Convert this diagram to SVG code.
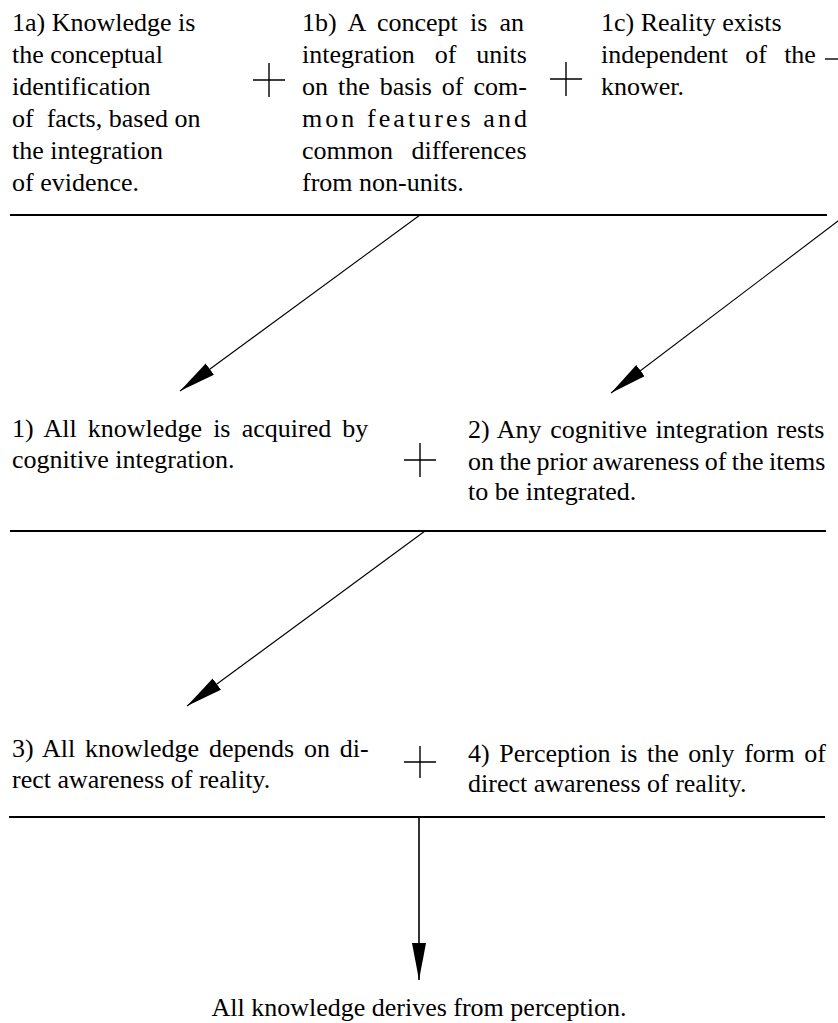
<svg xmlns="http://www.w3.org/2000/svg" width="838" height="1023" viewBox="0 0 838 1023">
<style>
  text { font-family: "Liberation Serif", "Times New Roman", serif; font-size: 26px; fill: #000; }
  .rule { stroke: #000; stroke-width: 2; fill: none; }
  .plus { stroke: #000; stroke-width: 1.4; fill: none; }
  .arrow { stroke: #000; stroke-width: 1.1; fill: none; marker-end: url(#head); }
  .arrowv { stroke: #000; stroke-width: 1.6; fill: none; marker-end: url(#head); }
</style>
<defs>
  <marker id="head" markerUnits="userSpaceOnUse" markerWidth="40" markerHeight="16" refX="37" refY="7" orient="auto">
    <path d="M0,0 L37,7 L0,14 Z" fill="#000"/>
  </marker>
</defs>
<rect width="838" height="1023" fill="#fff"/>

<g id="n1a">
  <text x="12" y="31">1a) Knowledge is</text>
  <text x="12" y="63">the conceptual</text>
  <text x="12" y="95">identification</text>
  <text x="12" y="127">of&#160; facts, based on</text>
  <text x="12" y="159">the integration</text>
  <text x="12" y="191">of evidence.</text>
</g>
<g id="n1b">
  <text x="302" y="31" style="word-spacing:5.7px">1b) A concept is an</text>
  <text x="302" y="63" style="word-spacing:13.5px">integration of units</text>
  <text x="302" y="95" style="word-spacing:3.5px">on the basis of com-</text>
  <text x="302" y="127" textLength="225" lengthAdjust="spacing">mon features and</text>
  <text x="302" y="159" style="word-spacing:12px">common differences</text>
  <text x="302" y="191">from non-units.</text>
</g>
<g id="n1c">
  <text x="601" y="31">1c) Reality exists</text>
  <text x="601" y="63" style="word-spacing:10.7px">independent of the</text>
  <text x="601" y="95">knower.</text>
</g>
<g id="n1">
  <text x="12" y="437" style="word-spacing:4.7px">1) All knowledge is acquired by</text>
  <text x="12" y="468">cognitive integration.</text>
</g>
<g id="n2">
  <text x="468" y="438" style="word-spacing:2.1px">2) Any cognitive integration rests</text>
  <text x="468" y="470" style="word-spacing:-1.1px">on the prior awareness of the items</text>
  <text x="468" y="500">to be integrated.</text>
</g>
<g id="n3">
  <text x="12" y="757" style="word-spacing:3.3px">3) All knowledge depends on di-</text>
  <text x="12" y="788">rect awareness of reality.</text>
</g>
<g id="n4">
  <text x="468" y="762" style="word-spacing:3.1px">4) Perception is the only form of</text>
  <text x="468" y="792">direct awareness of reality.</text>
</g>
<g id="conclusion">
  <text x="419" y="1016" text-anchor="middle">All knowledge derives from perception.</text>
</g>

<g id="operators">
  <path class="plus" d="M253,80 H285 M269,63 V97"/>
  <path class="plus" d="M550,79 H582 M566,62 V96"/>
  <path class="plus" d="M825,59 H838"/>
  <path class="plus" d="M404,460 H436 M420,443 V477"/>
  <path class="plus" d="M404,762 H436 M420,746 V778"/>
</g>

<g id="connectors">
  <line class="rule" x1="10" y1="215" x2="827" y2="215"/>
  <line class="rule" x1="10" y1="531" x2="826" y2="531"/>
  <line class="rule" x1="9" y1="817" x2="825" y2="817"/>
  <line class="arrow" x1="420" y1="215" x2="180" y2="391"/>
  <line class="arrow" x1="846" y1="215" x2="611" y2="393"/>
  <line class="arrow" x1="425" y1="531" x2="187" y2="706"/>
  <line class="arrowv" x1="419" y1="817" x2="419" y2="980"/>
</g>
</svg>
